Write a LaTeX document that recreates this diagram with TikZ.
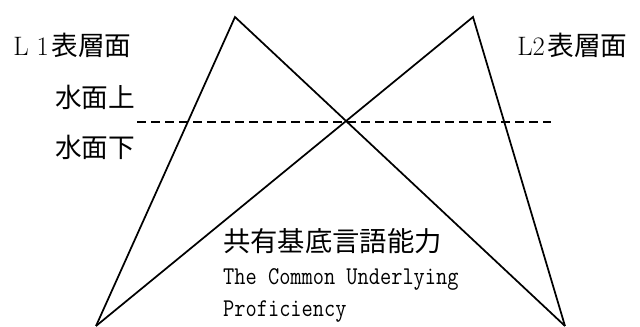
\documentclass[tikz,border=0pt]{standalone}
\usepackage{fontspec}
\usepackage{tikz}
\usetikzlibrary{positioning, calc}
\newfontfamily\jpfont{Noto Sans CJK JP}
\tikzset{
    edge/.style={draw, line width=1.3pt, line join=miter},
    waterline/.style={draw, dash pattern=on 6.5pt off 4pt, line width=1pt},
    sidelabel/.style={anchor=base west, inner sep=0pt, font=\fontsize{20}{24}\selectfont},
    cuptext/.style={anchor=base west, inner sep=0pt, xscale=0.85, font=\fontsize{19.2}{22}\ttfamily}
}
\begin{document}
\begin{tikzpicture}[x=0.75pt, y=-0.75pt]
    \useasboundingbox (0,0) rectangle (640,327);
    % corners of the two icebergs
    \coordinate (topL1) at (235,17);
    \coordinate (topL2) at (473,17);
    \coordinate (baseleft) at (96,326);
    \coordinate (baseright) at (565,326);
    \coordinate (waterstart) at (137,122);
    \coordinate (waterend) at (551,122);

    \draw [edge] (baseleft) -- (topL1) -- (baseright);
    \draw [edge] (baseleft) -- (topL2) -- (baseright);
    \draw [waterline] (waterstart) -- (waterend);

    \node [sidelabel] (surfL1) at (13,56) {L\hspace{6pt}1\hspace{2pt}{\jpfont 表層面}};
    \node [sidelabel] (surfL2) at (517,56) {L2\hspace{2pt}{\jpfont 表層面}};
    \node [sidelabel] (above) at (55,108) {\jpfont 水面上};
    \node [sidelabel] (below) at (55,158) {\jpfont 水面下};

    \node [sidelabel, font=\fontsize{20.5}{24}\selectfont] (cupjp) at (223,252) {\jpfont 共有基底言語能力};
    \node [cuptext] (cupen) at (223,285) {The Common Underlying};
    \node [cuptext] (cupen2) at (223,317) {Proficiency};
\end{tikzpicture}
\end{document}
